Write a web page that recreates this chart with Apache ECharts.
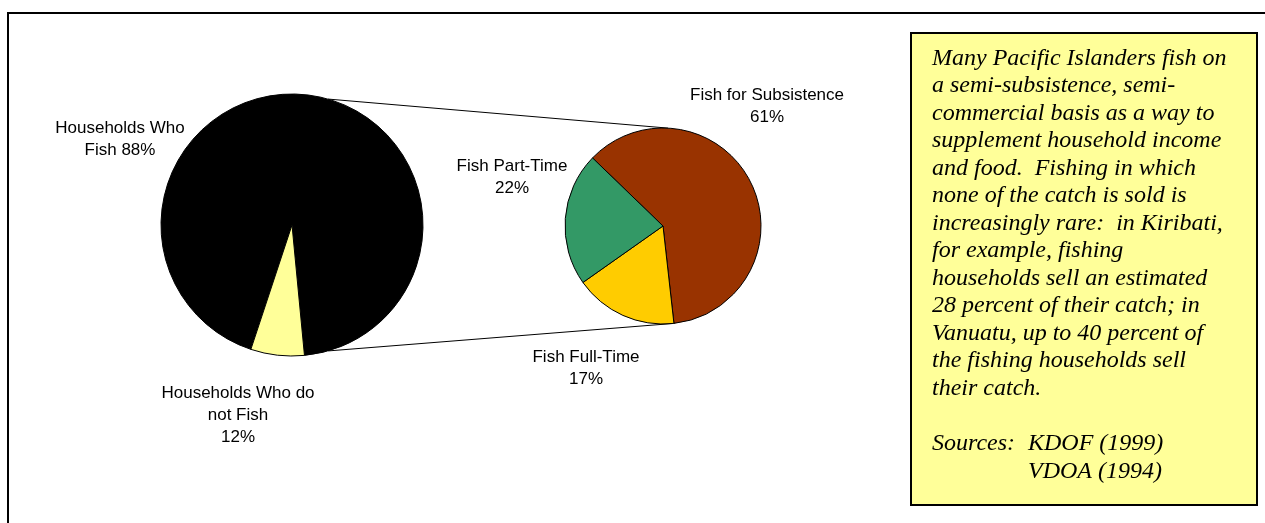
<!DOCTYPE html>
<html>
<head>
<meta charset="utf-8">
<script src="https://cdn.jsdelivr.net/npm/echarts@6/dist/echarts.min.js"></script>
<style>
  html, body { margin: 0; padding: 0; background: #fff; }
  #chart { width: 1265px; height: 523px; }
</style>
</head>
<body>
<div id="chart"></div>
<script>
// ---- data ----
// primary pie: share of the circle as drawn, and the printed labels
const primaryCategories = ['Households Who Fish', 'Households Who do not Fish'];
const primaryDrawnShare = [93.4, 6.6];
const primaryLabelText = ['Households Who\nFish 88%', 'Households Who do\nnot Fish\n12%'];
const primaryColors = ['#000000', '#FFFF99'];

// secondary pie (breakdown of fishing households)
const secondaryCategories = ['Fish for Subsistence', 'Fish Full-Time', 'Fish Part-Time'];
const secondaryValues = [61, 17, 22];
const secondaryColors = ['#993300', '#FFCC00', '#339966'];

// text box
const noteLines = [
  'Many Pacific Islanders fish on',
  'a semi-subsistence, semi-',
  'commercial basis as a way to',
  'supplement household income',
  'and food.  Fishing in which',
  'none of the catch is sold is',
  'increasingly rare:  in Kiribati,',
  'for example, fishing',
  'households sell an estimated',
  '28 percent of their catch; in',
  'Vanuatu, up to 40 percent of',
  'the fishing households sell',
  'their catch.'
];
const sourcesLabel = 'Sources:';
const sourcesList = ['KDOF (1999)', 'VDOA (1994)'];

// ---- layout ----
const P = { cx: 292, cy: 225, r: 131, start: -108.3 };
const S = { cx: 663, cy: 226, r: 98, start: 136 };
const primaryLabelPos = [[120, 139], [238, 415]];
const secondaryLabelPos = [[767, 106], [586, 368], [512, 177]];
// connector angles, clockwise from 12 o'clock (deg): [primary, secondary]
const connectors = [[16, 3], [164, 174]];

function pt(c, deg) {
  const a = deg * Math.PI / 180;
  return [c.cx + c.r * Math.sin(a), c.cy - c.r * Math.cos(a)];
}

const chart = echarts.init(document.getElementById('chart'));
const labelFont = { fontFamily: '"Liberation Sans", Arial, sans-serif', fontSize: 17, lineHeight: 22, color: '#000' };

const graphics = [
  { type: 'rect', shape: { x: 8, y: 13, width: 1400, height: 700 }, style: { fill: 'transparent', stroke: '#000', lineWidth: 2 }, z: 0 }
];
connectors.forEach(c => {
  const a = pt(P, c[0]), b = pt(S, c[1]);
  graphics.push({ type: 'line', shape: { x1: a[0], y1: a[1], x2: b[0], y2: b[1] }, style: { stroke: '#000', lineWidth: 1 }, z: 0 });
});
graphics.push({
  type: 'rect', shape: { x: 911, y: 33, width: 346, height: 472 },
  style: { fill: '#FFFF99', stroke: '#000', lineWidth: 2 }, z: 1
});
const noteFont = { fontFamily: '"Liberation Serif", "Times New Roman", serif', fontStyle: 'italic', fontSize: 24, lineHeight: 27.5, fill: '#000' };
graphics.push({
  type: 'text', x: 932, y: 44.5, z: 2,
  style: Object.assign({ text: noteLines.join('\n'), verticalAlign: 'top', align: 'left' }, noteFont)
});
graphics.push({
  type: 'text', x: 932, y: 443.3, z: 2,
  style: Object.assign({ text: sourcesLabel, verticalAlign: 'middle', align: 'left' }, noteFont)
});
sourcesList.forEach((s, i) => {
  graphics.push({
    type: 'text', x: 1028, y: 443.3 + i * 28.4, z: 2,
    style: Object.assign({ text: s, verticalAlign: 'middle', align: 'left' }, noteFont)
  });
});

chart.setOption({
  animation: false,
  backgroundColor: '#fff',
  graphic: graphics,
  series: [
    {
      type: 'pie',
      center: [P.cx, P.cy],
      radius: [0, P.r],
      startAngle: P.start,
      clockwise: true,
      avoidLabelOverlap: false,
      silent: true,
      z: 3,
      itemStyle: { borderColor: '#000', borderWidth: 1 },
      label: Object.assign({ show: true, position: 'outside', align: 'center',
        formatter: p => primaryLabelText[p.dataIndex] }, labelFont),
      labelLine: { show: false },
      labelLayout: p => ({ x: primaryLabelPos[p.dataIndex][0], y: primaryLabelPos[p.dataIndex][1], align: 'center', verticalAlign: 'middle' }),
      data: primaryCategories.map((n, i) => ({ name: n, value: primaryDrawnShare[i], itemStyle: { color: primaryColors[i] } }))
    },
    {
      type: 'pie',
      center: [S.cx, S.cy],
      radius: [0, S.r],
      startAngle: S.start,
      clockwise: true,
      avoidLabelOverlap: false,
      silent: true,
      z: 3,
      itemStyle: { borderColor: '#000', borderWidth: 1 },
      label: Object.assign({ show: true, position: 'outside', align: 'center',
        formatter: p => secondaryCategories[p.dataIndex] + '\n' + secondaryValues[p.dataIndex] + '%' }, labelFont),
      labelLine: { show: false },
      labelLayout: p => ({ x: secondaryLabelPos[p.dataIndex][0], y: secondaryLabelPos[p.dataIndex][1], align: 'center', verticalAlign: 'middle' }),
      data: secondaryCategories.map((n, i) => ({ name: n, value: secondaryValues[i], itemStyle: { color: secondaryColors[i] } }))
    }
  ]
});
</script>
</body>
</html>
